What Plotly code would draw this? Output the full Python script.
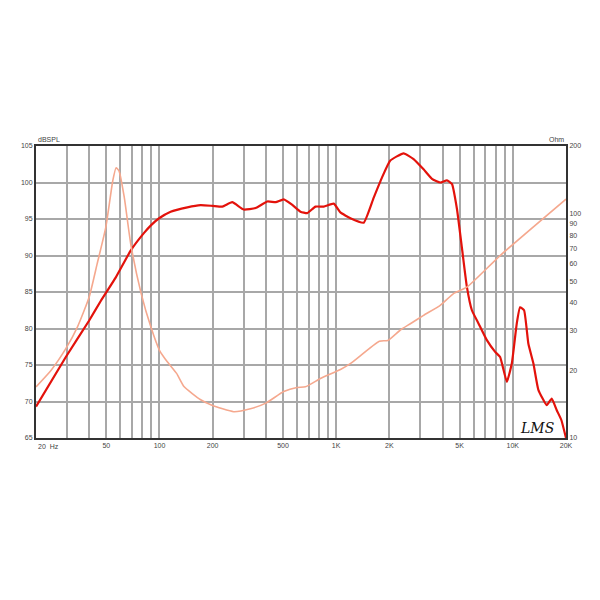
import plotly.graph_objects as go
import math

# SPL response (dB) vs frequency (Hz)
spl_freq = [20, 29.5, 40, 46.6, 56.6, 68.8, 81.8, 90, 99.5, 115.6, 143.8, 171, 200, 227, 258,
            300, 350, 408, 455, 505, 560, 628, 686, 764, 851, 969, 1057, 1204, 1432, 1630,
            1819, 2026, 2409, 2744, 3125, 3486, 3882, 4236, 4522, 4826, 5148, 5496, 5866,
            6392, 7130, 7942, 8476, 9248, 9870, 10530, 10990, 11580, 12250, 13080, 13950,
            15560, 16610, 17730, 18800, 20000]
spl_db = [69.3, 76.1, 81.1, 83.8, 87.0, 90.7, 93.1, 94.2, 95.1, 96.0, 96.6, 96.9, 96.8, 96.7,
          97.3, 96.3, 96.5, 97.4, 97.3, 97.7, 97.0, 96.0, 95.8, 96.7, 96.7, 97.1, 95.9, 95.1,
          94.5, 97.9, 100.7, 103.0, 104.0, 103.2, 101.8, 100.5, 100.0, 100.3, 99.8, 96.4,
          91.1, 85.7, 82.5, 80.7, 78.4, 76.8, 76.1, 72.7, 75.2, 80.7, 82.9, 82.5, 77.9, 75.2,
          71.6, 69.5, 70.4, 68.8, 67.5, 65.0]

# Impedance (Ohm) vs frequency (Hz)
imp_freq = [20, 24.3, 29.5, 34.3, 40, 44.4, 49.7, 54.4, 56.8, 59, 63.2, 68.8, 78.8, 89.4, 100,
            111, 125, 138, 171, 198, 263, 327, 400, 505, 600, 670, 814, 1058, 1208, 1756, 1960,
            2300, 2630, 3125, 3882, 4616, 5496, 8476, 20000]
imp_ohm = [16.9, 20.0, 25.0, 31.2, 42.5, 59.8, 87, 140, 160, 155, 118, 73, 44, 31.2, 24.6,
           21.8, 19.4, 16.9, 14.8, 14.0, 13.1, 13.5, 14.3, 16.1, 16.8, 16.9, 18.4, 20.2, 21.5,
           27.0, 27.2, 30.2, 32.3, 35.2, 39.0, 44.0, 47.0, 65.0, 116]

x_grid = [20, 30, 40, 50, 60, 70, 80, 90, 100, 200, 300, 400, 500, 600, 700, 800, 900,
          1000, 2000, 3000, 4000, 5000, 6000, 7000, 8000, 9000, 10000, 20000]
x_labels = {50: "50", 100: "100", 200: "200", 500: "500", 1000: "1K", 2000: "2K",
            5000: "5K", 10000: "10K", 20000: "20K"}
y_ticks = [65, 70, 75, 80, 85, 90, 95, 100, 105]
y2_ticks = [10, 20, 30, 40, 50, 60, 70, 80, 90, 100, 200]

fig = go.Figure()
fig.add_trace(go.Scatter(x=imp_freq, y=imp_ohm, yaxis="y2", mode="lines",
                         line=dict(color="#f5a88e", width=1.6, shape="spline", smoothing=0.5),
                         hoverinfo="skip"))
fig.add_trace(go.Scatter(x=spl_freq, y=spl_db, mode="lines",
                         line=dict(color="#e3120b", width=2.2, shape="spline", smoothing=0.4),
                         hoverinfo="skip"))

tickfont = dict(family="Liberation Sans, Arial", size=7, color="#444444")
fig.update_layout(
    width=600, height=600,
    paper_bgcolor="white", plot_bgcolor="white",
    margin=dict(l=28, r=42, t=138, b=170, autoexpand=False),
    showlegend=False,
    xaxis=dict(type="log", range=[math.log10(20), math.log10(20000)],
               tickvals=x_grid, ticktext=[x_labels.get(v, "") for v in x_grid],
               tickfont=tickfont, ticks="", showgrid=True, gridcolor="#a8a8a8", gridwidth=1.5,
               showline=True, linecolor="#333333", linewidth=2, mirror=True,
               zeroline=False, fixedrange=True, automargin=False),
    yaxis=dict(range=[65, 105], tickvals=y_ticks, tickfont=tickfont, ticks="",
               showgrid=True, gridcolor="#a8a8a8", gridwidth=1.5,
               showline=True, linecolor="#333333", linewidth=2, mirror=True,
               zeroline=False, fixedrange=True, automargin=False),
    yaxis2=dict(type="log", range=[1, math.log10(200)], overlaying="y", side="right",
                tickvals=y2_ticks, ticktext=[str(v) for v in y2_ticks], tickfont=tickfont,
                ticks="", showgrid=False, showline=True, linecolor="#333333", linewidth=2,
                zeroline=False, fixedrange=True, automargin=False),
    annotations=[
        dict(text="20  Hz", xref="paper", yref="paper", x=0, y=0, xanchor="left",
             yanchor="top", yshift=-3, showarrow=False, font=tickfont),
        dict(text="dBSPL", xref="paper", yref="paper", x=0, y=1, xanchor="left",
             yanchor="bottom", yshift=1, showarrow=False, font=tickfont),
        dict(text="Ohm", xref="paper", yref="paper", x=1, y=1, xanchor="right",
             yanchor="bottom", yshift=1, showarrow=False, font=tickfont),
        dict(text="<i>LMS</i>", xref="paper", yref="paper", x=0.945, y=0.035,
             xanchor="center", yanchor="middle", showarrow=False,
             font=dict(family="DejaVu Serif", size=14, color="#111111")),
    ],
)

fig.write_html("out.html")
